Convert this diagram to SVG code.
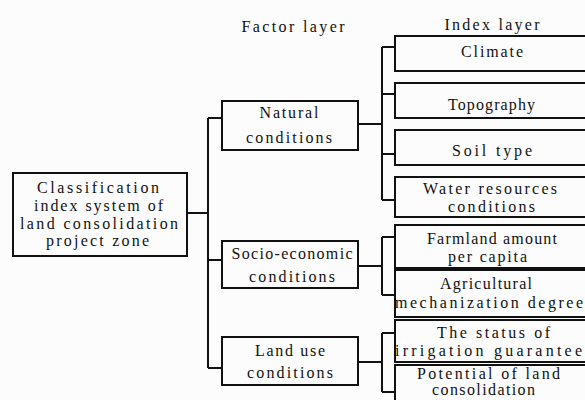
<svg xmlns="http://www.w3.org/2000/svg" width="585" height="400" viewBox="0 0 585 400">
<style>
.box{fill:none;stroke:#111;stroke-width:2}
.ln{fill:none;stroke:#111;stroke-width:2}
text{font-family:"Liberation Serif","Times New Roman",serif;font-size:16px;fill:#111;text-anchor:middle}
</style>
<rect width="585" height="400" fill="#fcfcfc"/>
<g id="headers">
<text x="293" y="32" textLength="103" lengthAdjust="spacing">Factor layer</text>
<text x="492" y="30" textLength="95" lengthAdjust="spacing">Index layer</text>
</g>
<g id="connectors">
<path class="ln" d="M187,213H208M208,118V368M208,118H222M208,260H222M208,368H222"/>
<path class="ln" d="M358,124H382M382,47V200M382,47H395M382,94H395M382,154H395M382,200H395"/>
<path class="ln" d="M358,266H382M382,237V295M382,237H395M382,295H395"/>
<path class="ln" d="M358,362H382M382,333V392M382,333H395M382,392H395"/>
</g>
<g id="root">
<rect class="box" x="13" y="173" width="174" height="83"/>
<text x="98" y="193" textLength="122" lengthAdjust="spacing">Classification</text>
<text x="98.5" y="211" textLength="129" lengthAdjust="spacing">index system of</text>
<text x="99" y="229" textLength="158" lengthAdjust="spacing">land consolidation</text>
<text x="97.5" y="246" textLength="103" lengthAdjust="spacing">project zone</text>
</g>
<g id="natural">
<rect class="box" x="222" y="101" width="136" height="49"/>
<text x="289" y="118" textLength="59" lengthAdjust="spacing">Natural</text>
<text x="289" y="143" textLength="86" lengthAdjust="spacing">conditions</text>
</g>
<g id="socio">
<rect class="box" x="222" y="241" width="136" height="47"/>
<text x="292" y="259" textLength="121" lengthAdjust="spacing">Socio-economic</text>
<text x="292" y="282" textLength="86" lengthAdjust="spacing">conditions</text>
</g>
<g id="landuse">
<rect class="box" x="222" y="337" width="136" height="48"/>
<text x="290" y="356" textLength="70" lengthAdjust="spacing">Land use</text>
<text x="290" y="378" textLength="86" lengthAdjust="spacing">conditions</text>
</g>
<g id="climate">
<rect class="box" x="395" y="36" width="195" height="35"/>
<text x="492" y="57" textLength="62" lengthAdjust="spacing">Climate</text>
</g>
<g id="topography">
<rect class="box" x="395" y="83" width="195" height="35"/>
<text x="491.5" y="110" textLength="87" lengthAdjust="spacing">Topography</text>
</g>
<g id="soil">
<rect class="box" x="395" y="130" width="195" height="35"/>
<text x="492" y="156" textLength="80" lengthAdjust="spacing">Soil type</text>
</g>
<g id="water">
<rect class="box" x="395" y="177" width="195" height="40"/>
<text x="490" y="194" textLength="134" lengthAdjust="spacing">Water resources</text>
<text x="491.5" y="212" textLength="87" lengthAdjust="spacing">conditions</text>
</g>
<g id="farmland">
<rect class="box" x="395" y="225" width="195" height="43"/>
<text x="492" y="244" textLength="130" lengthAdjust="spacing">Farmland amount</text>
<text x="487.5" y="262" textLength="79" lengthAdjust="spacing">per capita</text>
</g>
<g id="agri">
<rect class="box" x="395" y="270" width="195" height="47"/>
<text x="486" y="289" textLength="92" lengthAdjust="spacing">Agricultural</text>
<text x="489" y="308" textLength="188" lengthAdjust="spacing">mechanization degree</text>
</g>
<g id="irrigation">
<rect class="box" x="395" y="320" width="195" height="42"/>
<text x="493.5" y="338" textLength="113" lengthAdjust="spacing">The status of</text>
<text x="488.5" y="356" textLength="187" lengthAdjust="spacing">irrigation guarantee</text>
</g>
<g id="potential">
<rect class="box" x="395" y="365" width="195" height="40"/>
<text x="488.5" y="379" textLength="143" lengthAdjust="spacing">Potential of land</text>
<text x="483.5" y="395" textLength="103" lengthAdjust="spacing">consolidation</text>
</g>
</svg>
